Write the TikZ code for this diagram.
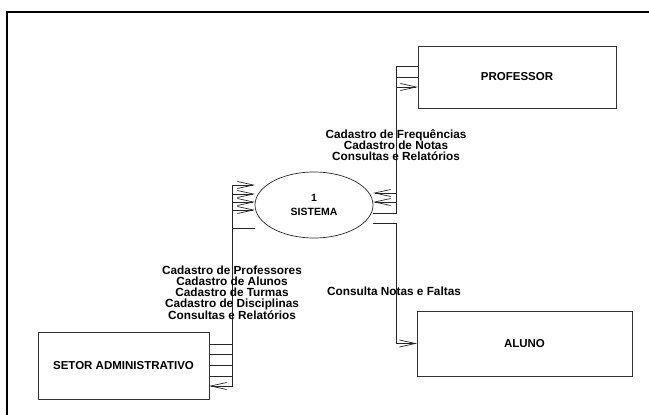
\documentclass[tikz,border=0pt]{standalone}
\usepackage{fontspec}
\setmainfont{Liberation Sans}
\usetikzlibrary{arrows.meta,shapes.geometric}
\begin{document}
\begin{tikzpicture}[x=1pt,y=-1pt,
  box/.style={draw=black!80,line width=0.9pt,inner sep=0pt,outer sep=0pt,font=\fontsize{11.5}{11}\selectfont\bfseries},
  proc/.style={ellipse,draw=black!85,line width=0.7pt,inner sep=0pt,outer sep=0pt,minimum width=118pt,minimum height=66pt,align=center,font=\fontsize{10.5}{13.5}\selectfont\bfseries},
  flow/.style={draw=black!85,line width=0.8pt},
  tip/.style={-{Straight Barb[length=16pt,width=7pt,line width=0.7pt]}},
  lbl/.style={align=center,inner sep=0pt,font=\fontsize{11.8}{11}\selectfont\bfseries}]
\useasboundingbox (0,0) rectangle (649,415);
\draw[line width=2pt] (7,440) -- (7,12) -- (670,12);
% nodes
\node[box,minimum width=198pt,minimum height=62pt] (prof) at (517,77) {PROFESSOR};
\node[box,minimum width=215pt,minimum height=65pt] (aluno) at (524.5,343.5) {ALUNO};
\node[box,minimum width=171pt,minimum height=67pt] (adm) at (123.5,365.5) {SETOR ADMINISTRATIVO};
\node[proc] (sis) at (314,205) {1\\SISTEMA};
% admin -> sistema
\draw[flow,tip] (adm.east |- 0,344) -| (232,185) -- (sis.west |- 0,185);
\draw[flow,tip] (adm.east |- 0,354) -| (232,194) -- (sis.west |- 0,194);
\draw[flow,tip] (adm.east |- 0,365) -| (232,202) -- (sis.west |- 0,202);
\draw[flow,tip] (adm.east |- 0,376) -| (232,210) -- (sis.west |- 0,210);
% sistema -> admin
\draw[flow,tip] (sis.west |- 0,228) -| (232,386) -- (adm.east |- 0,386);
% professor -> sistema
\draw[flow,tip] (prof.west |- 0,66) -| (396,193) -- (sis.east |- 0,193);
\draw[flow,tip] (prof.west |- 0,77) -| (396,202) -- (sis.east |- 0,202);
% sistema -> professor
\draw[flow,tip] (sis.east |- 0,213) -| (396,87) -- (prof.west |- 0,87);
% sistema -> aluno
\draw[flow,tip] (sis.east |- 0,223) -| (396,343.5) -- (aluno.west);
% labels
\node[lbl] (lA) at (232,293) {Cadastro de Professores\\Cadastro de Alunos\\Cadastro de Turmas\\Cadastro de Disciplinas\\Consultas e Relatórios};
\node[lbl] (lP) at (396,145) {Cadastro de Frequências\\Cadastro de Notas\\Consultas e Relatórios};
\node[lbl] (lC) at (394,291) {Consulta Notas e Faltas};
\end{tikzpicture}
\end{document}
